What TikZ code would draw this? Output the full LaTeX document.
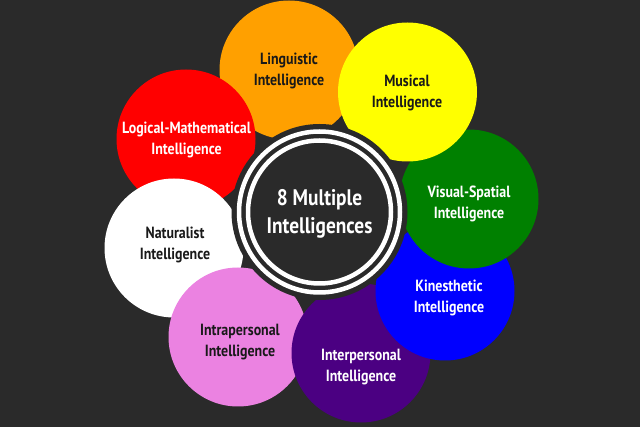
\documentclass[tikz,border=0pt]{standalone}
\usepackage{fontspec}
\setmainfont{PT Sans}[FakeStretch=0.86]
\usepackage{tikz}
\usetikzlibrary{positioning}
\usepackage{xcolor}
\definecolor{mibg}{RGB}{42,42,42}
\definecolor{miorange}{RGB}{255,160,0}
\definecolor{miyellow}{RGB}{255,255,0}
\definecolor{migreen}{RGB}{0,128,0}
\definecolor{miblue}{RGB}{0,0,255}
\definecolor{mipurple}{RGB}{75,0,130}
\definecolor{mipink}{RGB}{235,130,225}
\definecolor{mired}{RGB}{255,0,0}
\definecolor{midark}{RGB}{25,25,25}
\tikzstyle{bubble} = [circle, minimum size=139pt, inner sep=0pt]
\tikzstyle{bubbletext} = [align=center, inner sep=0pt, font=\bfseries\fontsize{16.2}{21}\selectfont]
\tikzstyle{ring} = [circle, draw=white, line width=4.5pt, inner sep=0pt]

\begin{document}
\begin{tikzpicture}[x=1pt,y=-1pt]
% Board
\fill[mibg] (0,0) rectangle (640,427);
\useasboundingbox (0,0) rectangle (640,427);

% Circles, bottom one first
\node[bubble, fill=miorange] (ling) at (289,70) {};
\node[bubble, fill=mired] (logic) at (186,139) {};
\node[bubble, fill=white] (nat) at (174,248) {};
\node[bubble, fill=mipink] (intra) at (238,337) {};
\node[bubble, fill=mipurple] (inter) at (361,353) {};
\node[bubble, fill=miblue] (kin) at (445,291) {};
\node[bubble, fill=migreen] (vis) at (469,199) {};
\node[bubble, fill=miyellow] (mus) at (407.5,92) {};

% Labels
\node[bubbletext, text=midark] (lingtxt) at (289,71) {Linguistic\\Intelligence};
\node[bubbletext, text=white] (logictxt) at (186.5,139.5) {Logical-Mathematical\\Intelligence};
\node[bubbletext, text=midark] (nattxt) at (175,245) {Naturalist\\Intelligence};
\node[bubbletext, text=midark] (intratxt) at (240,342.5) {Intrapersonal\\Intelligence};
\node[bubbletext, text=white] (intertxt) at (361,367) {Interpersonal\\Intelligence};
\node[bubbletext, text=white] (kintxt) at (449,297.5) {Kinesthetic\\Intelligence};
\node[bubbletext, text=white] (vistxt) at (469,203.5) {Visual-Spatial\\Intelligence};
\node[bubbletext, text=midark] (mustxt) at (407,93) {Musical\\Intelligence};

% Centre
\node[circle, fill=mibg, minimum size=176pt, inner sep=0pt] (hub) at (319.5,212) {};
\node[ring, minimum size=161pt] (outer) at (hub) {};
\node[ring, minimum size=143pt] (inner) at (hub) {};
\node[align=center, text=white, font=\bfseries\fontsize{22.5}{28}\selectfont] (title) at (319.5,214) {8 Multiple\\Intelligences};
\end{tikzpicture}
\end{document}
